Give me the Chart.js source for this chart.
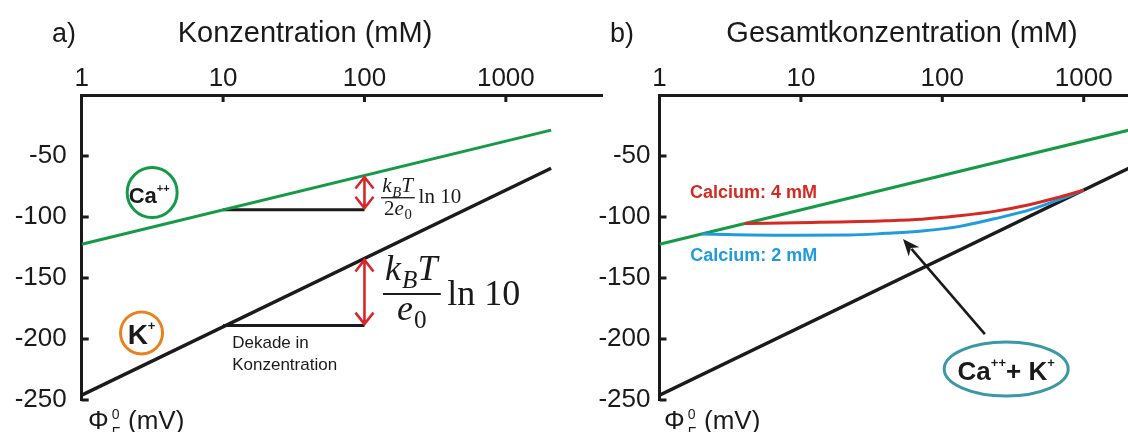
<!DOCTYPE html>
<html>
<head>
<meta charset="utf-8">
<script src="https://cdn.jsdelivr.net/npm/chart.js@4.4.1/dist/chart.umd.min.js"></script>
<style>
  html, body { margin: 0; padding: 0; background: #ffffff; }
  #wrap { position: relative; width: 1128px; height: 432px; overflow: hidden; }
  #wrap canvas { position: absolute; top: 0; }
  #chartA { left: 0; }
  #chartB { left: 560px; }
</style>
</head>
<body>
<div id="wrap">
  <canvas id="chartA" width="612" height="432"></canvas>
  <canvas id="chartB" width="568" height="432"></canvas>
</div>
<script>
// ---- data (concentration in mM, surface potential in mV) ----
const lineConc       = [1, 2090];
const calciumOnly    = [-122.4, -28.8];
const potassiumOnly  = [-246, -60];
const decadeConc     = [10, 100];
const calciumDecade  = [-94, -94];
const potassiumDecade = [-189, -189];
const arrowCalcium   = [-66, -94];    // double arrow at 100 mM, Ca++ line
const arrowPotassium = [-134, -189];  // double arrow at 100 mM, K+ line
const mixConc4   = [4, 12, 40, 72, 130, 233, 420, 673, 1000];
const mixCalcium4 = [-105.3, -104.5, -103.1, -101.8, -99.0, -95.4, -89.8, -83.7, -78];
const mixConc2   = [2, 6.8, 22, 40, 72, 130, 233, 420, 673, 1000];
const mixCalcium2 = [-114, -114.9, -114.8, -113.4, -111.5, -107.9, -101.5, -94.0, -85.7, -78];
const concTicks      = [1, 10, 100, 1000];
const potentialTicks = [-250, -200, -150, -100, -50];

// ---- styling ----
const SANS  = '"Liberation Sans", Arial, Helvetica, sans-serif';
const SERIF = '"Liberation Serif", "Times New Roman", serif';
const INK    = '#1a1a1a';
const GREEN  = '#179a47';
const KLINE  = '#1c1a1a';
const RED    = '#d8262b';
const CURVE4 = '#d42a22';
const CURVE2 = '#1f9bde';
const ORANGE = '#e8821e';
const TEAL   = '#3d98a6';

function pts(xs, ys) { return xs.map((x, i) => ({ x: x, y: ys[i] })); }
function lineSet(xs, ys, color, width, extra) {
  return Object.assign({
    data: pts(xs, ys), borderColor: color, borderWidth: width,
    pointRadius: 0, fill: false, tension: 0, borderCapStyle: 'butt'
  }, extra || {});
}

function scalesFor(xMax, yWidth, yPad) {
  return {
    x: {
      type: 'logarithmic', position: 'top', min: 1, max: xMax,
      grid: { display: false, drawTicks: false },
      border: { display: true, width: 3, color: INK },
      ticks: { font: { family: SANS, size: 26 }, color: INK, padding: 1,
               autoSkip: false, maxRotation: 0, callback: v => String(v) },
      afterBuildTicks: s => { s.ticks = concTicks.map(v => ({ value: v })); },
      afterFit: s => { s.height = 95; }
    },
    y: {
      type: 'linear', min: -250, max: 0,
      grid: { display: false, drawTicks: false },
      border: { display: true, width: 3, color: INK },
      ticks: { font: { family: SANS, size: 26 }, color: INK, padding: yPad,
               autoSkip: false, callback: v => String(v) },
      afterBuildTicks: s => { s.ticks = potentialTicks.map(v => ({ value: v })); },
      afterFit: s => { s.width = yWidth; }
    }
  };
}

function baseOptions(xMax, yWidth, yPad, padRight) {
  return {
    responsive: false, animation: false, events: [],
    layout: { padding: { left: 0, top: 0, right: padRight, bottom: 32 } },
    plugins: { legend: { display: false }, tooltip: { enabled: false } },
    scales: scalesFor(xMax, yWidth, yPad)
  };
}

// ---- drawing helpers ----
function text(ctx, s, x, y, font, color, align) {
  ctx.font = font; ctx.fillStyle = color; ctx.textAlign = align || 'left';
  ctx.textBaseline = 'alphabetic'; ctx.fillText(s, x, y);
}

const inwardTicks = {
  id: 'inwardTicks',
  afterDraw(chart) {
    const { ctx, chartArea: a } = chart;
    const sx = chart.scales.x, sy = chart.scales.y;
    ctx.save();
    ctx.strokeStyle = INK; ctx.lineWidth = 3; ctx.beginPath();
    concTicks.slice(1).forEach(v => {
      const p = sx.getPixelForValue(v);
      if (p <= a.right) { ctx.moveTo(p, a.top); ctx.lineTo(p, a.top + 7); }
    });
    potentialTicks.forEach(v => {
      const p = sy.getPixelForValue(v);
      ctx.moveTo(a.left, p); ctx.lineTo(a.left + 7, p);
    });
    ctx.stroke(); ctx.restore();
  }
};

function drawPhi(ctx, x, base) {
  ctx.save();
  ctx.fillStyle = INK; ctx.textAlign = 'left'; ctx.textBaseline = 'alphabetic';
  ctx.font = '26px ' + SANS;
  ctx.fillText('\u03A6', x, base);
  const w = ctx.measureText('\u03A6').width;
  ctx.font = '14px ' + SANS;
  ctx.fillText('0', x + w + 3, base - 10);
  ctx.fillText('F', x + w + 3, base + 8);
  ctx.font = '26px ' + SANS;
  ctx.fillText('(mV)', x + 40, base);
  ctx.restore();
}

function doubleArrow(ctx, x, yTop, yBot) {
  ctx.save();
  ctx.strokeStyle = RED; ctx.lineWidth = 2.6; ctx.lineJoin = 'miter'; ctx.lineCap = 'butt';
  ctx.beginPath();
  ctx.moveTo(x, yTop + 1); ctx.lineTo(x, yBot - 1);
  ctx.moveTo(x - 9, yTop + 13); ctx.lineTo(x, yTop + 1.5); ctx.lineTo(x + 9, yTop + 13);
  ctx.moveTo(x - 9, yBot - 13); ctx.lineTo(x, yBot - 1.5); ctx.lineTo(x + 9, yBot - 13);
  ctx.stroke();
  ctx.restore();
}

function solidArrow(ctx, x0, y0, x1, y1) {
  const ang = Math.atan2(y1 - y0, x1 - x0);
  const len = 17, half = 7;
  const bx = x1 - len * Math.cos(ang), by = y1 - len * Math.sin(ang);
  ctx.save();
  ctx.strokeStyle = INK; ctx.fillStyle = INK; ctx.lineWidth = 2.6;
  ctx.beginPath(); ctx.moveTo(x0, y0); ctx.lineTo(bx + 4 * Math.cos(ang), by + 4 * Math.sin(ang)); ctx.stroke();
  ctx.beginPath();
  ctx.moveTo(x1, y1);
  ctx.lineTo(bx + half * Math.sin(ang), by - half * Math.cos(ang));
  ctx.lineTo(bx + 5 * Math.cos(ang), by + 5 * Math.sin(ang));
  ctx.lineTo(bx - half * Math.sin(ang), by + half * Math.cos(ang));
  ctx.closePath(); ctx.fill();
  ctx.restore();
}

// runs of math symbols: style 'i' italic, 'r' roman, 's' subscript
function mathRun(ctx, parts, size, x, base, draw) {
  let cx = x;
  for (const [t, st] of parts) {
    const sub = st.indexOf('s') >= 0;
    const ital = st.indexOf('i') >= 0;
    const fs = sub ? size * 0.7 : size;
    ctx.font = (ital ? 'italic ' : '') + fs.toFixed(1) + 'px ' + SERIF;
    const w = ctx.measureText(t).width;
    if (draw) ctx.fillText(t, cx, base + (sub ? size * 0.22 : 0));
    cx += w + (ital && !sub ? size * 0.03 : 0);
  }
  return cx - x;
}

function fraction(ctx, left, lineY, size, num, den, tail, o) {
  ctx.save();
  ctx.fillStyle = INK; ctx.textAlign = 'left'; ctx.textBaseline = 'alphabetic';
  const wn = mathRun(ctx, num, size, 0, 0, false);
  const wd = mathRun(ctx, den, size, 0, 0, false);
  const pad = size * 0.06;
  const w = Math.max(wn, wd) + 2 * pad;
  mathRun(ctx, num, size, left + (w - wn) / 2, lineY - o.num * size, true);
  mathRun(ctx, den, size, left + (w - wd) / 2, lineY + o.den * size, true);
  const th = Math.max(1.3, size * 0.055);
  ctx.fillRect(left, lineY - th / 2, w, th);
  ctx.font = size + 'px ' + SERIF;
  ctx.fillText(tail, left + w + size * 0.18, lineY + o.tail * size);
  ctx.restore();
}

function ionLabel(ctx, cx, parts) {
  ctx.save();
  ctx.fillStyle = INK; ctx.textAlign = 'left'; ctx.textBaseline = 'alphabetic';
  let total = 0;
  const widths = parts.map(([t, fs]) => { ctx.font = 'bold ' + fs + 'px ' + SANS; const w = ctx.measureText(t).width; total += w; return w; });
  return { total, widths, draw(baseY) {
    let x = cx - total / 2;
    parts.forEach(([t, fs, dy], i) => {
      ctx.font = 'bold ' + fs + 'px ' + SANS;
      ctx.fillText(t, x, baseY + dy);
      x += widths[i];
    });
    ctx.restore();
  } };
}

// ---- annotation anchors (data coordinates) ----
const caBadge   = { x: 3.15, y: -80, r: 25 };
const kBadge    = { x: 2.65, y: -195, r: 21 };
const fracSmall = { x: 131, y: -84.2 };
const fracLarge = { x: 135, y: -163.1 };
const decadeNote = { x: 11.6, y: -207.4 };
const mixBadge  = { x: 283, y: -224.6, rx: 62, ry: 27 };
const mixArrow  = { from: [200, -196], to: [52.7, -118] };
const label4    = { x: 1.64, y: -84.4 };
const label2    = { x: 1.65, y: -135.7 };

const panelA = {
  id: 'panelA',
  afterDraw(chart) {
    const { ctx } = chart;
    const X = v => chart.scales.x.getPixelForValue(v);
    const Y = v => chart.scales.y.getPixelForValue(v);

    text(ctx, 'a)', 52, 42, '27px ' + SANS, INK, 'left');
    text(ctx, 'Konzentration (mM)', 305, 42, '29px ' + SANS, INK, 'center');
    drawPhi(ctx, 88, 429);

    const ax = X(decadeConc[1]);
    doubleArrow(ctx, ax, Y(arrowCalcium[0]), Y(arrowCalcium[1]));
    doubleArrow(ctx, ax, Y(arrowPotassium[0]), Y(arrowPotassium[1]));

    fraction(ctx, X(fracSmall.x), Y(fracSmall.y), 21,
      [['k', 'i'], ['B', 'is'], ['T', 'i']], [['2', 'r'], ['e', 'i'], ['0', 'rs']], 'ln 10',
      { num: 0.27, den: 0.8, tail: 0.27 });
    fraction(ctx, X(fracLarge.x), Y(fracLarge.y), 36,
      [['k', 'i'], ['B', 'is'], ['T', 'i']], [['e', 'i'], ['0', 'rs']], 'ln 10',
      { num: 0.38, den: 0.72, tail: 0.31 });

    // ion badges
    let cx = X(caBadge.x), cy = Y(caBadge.y);
    ctx.save(); ctx.strokeStyle = GREEN; ctx.lineWidth = 3;
    ctx.beginPath(); ctx.arc(cx, cy, caBadge.r, 0, 2 * Math.PI); ctx.stroke(); ctx.restore();
    ionLabel(ctx, cx - 3, [['Ca', 22, 0], ['++', 11, -11]]).draw(cy + 10);

    cx = X(kBadge.x); cy = Y(kBadge.y);
    ctx.save(); ctx.strokeStyle = ORANGE; ctx.lineWidth = 3;
    ctx.beginPath(); ctx.arc(cx, cy, kBadge.r, 0, 2 * Math.PI); ctx.stroke(); ctx.restore();
    ionLabel(ctx, cx, [['K', 28, 0], ['+', 13, -14]]).draw(cy + 11);

    const dx = X(decadeNote.x), dy = Y(decadeNote.y);
    text(ctx, 'Dekade in', dx, dy, '17px ' + SANS, INK, 'left');
    text(ctx, 'Konzentration', dx, dy + 22, '17px ' + SANS, INK, 'left');
  }
};

const panelB = {
  id: 'panelB',
  afterDraw(chart) {
    const { ctx } = chart;
    const X = v => chart.scales.x.getPixelForValue(v);
    const Y = v => chart.scales.y.getPixelForValue(v);

    text(ctx, 'b)', 50, 42, '27px ' + SANS, INK, 'left');
    text(ctx, 'Gesamtkonzentration (mM)', 342, 42, '29px ' + SANS, INK, 'center');
    drawPhi(ctx, 104, 429);

    text(ctx, 'Calcium: 4 mM', X(label4.x), Y(label4.y), 'bold 18px ' + SANS, CURVE4, 'left');
    text(ctx, 'Calcium: 2 mM', X(label2.x), Y(label2.y), 'bold 18px ' + SANS, CURVE2, 'left');

    solidArrow(ctx, X(mixArrow.from[0]), Y(mixArrow.from[1]), X(mixArrow.to[0]), Y(mixArrow.to[1]));

    const cx = X(mixBadge.x), cy = Y(mixBadge.y);
    ctx.save(); ctx.strokeStyle = TEAL; ctx.lineWidth = 3;
    ctx.beginPath(); ctx.ellipse(cx, cy, mixBadge.rx, mixBadge.ry, 0, 0, 2 * Math.PI); ctx.stroke(); ctx.restore();
    ionLabel(ctx, cx, [['Ca', 26, 0], ['++', 13, -13], ['+ K', 26, 0], ['+', 13, -13]]).draw(cy + 11);
  }
};

new Chart(document.getElementById('chartA'), {
  type: 'line',
  data: {
    datasets: [
      lineSet(lineConc, calciumOnly, GREEN, 3),
      lineSet(lineConc, potassiumOnly, KLINE, 3.4),
      lineSet(decadeConc, calciumDecade, KLINE, 3),
      lineSet(decadeConc, potassiumDecade, KLINE, 3)
    ]
  },
  options: baseOptions(4786, 81.7, 15, 10),
  plugins: [inwardTicks, panelA]
});

new Chart(document.getElementById('chartB'), {
  type: 'line',
  data: {
    datasets: [
      lineSet(mixConc4, mixCalcium4, CURVE4, 3, { cubicInterpolationMode: 'monotone' }),
      lineSet(mixConc2, mixCalcium2, CURVE2, 3, { cubicInterpolationMode: 'monotone' }),
      lineSet(lineConc, calciumOnly, GREEN, 3),
      lineSet(lineConc, potassiumOnly, KLINE, 3.4)
    ]
  },
  options: baseOptions(2057, 99.5, 9, 0),
  plugins: [inwardTicks, panelB]
});
</script>
</body>
</html>
